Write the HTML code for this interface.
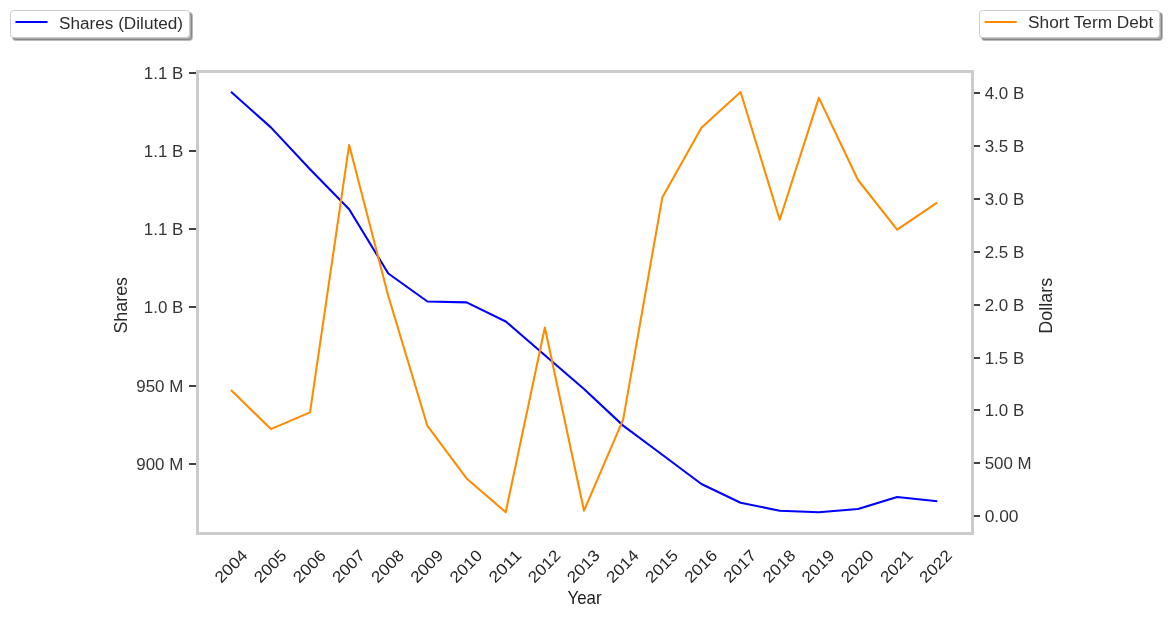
<!DOCTYPE html>
<html><head><meta charset="utf-8"><style>
html,body{margin:0;padding:0;background:#fff;overflow:hidden;}
svg{display:block;will-change:transform;}
text{font-family:"Liberation Sans", sans-serif;}
</style></head><body>
<svg width="1169" height="618" viewBox="0 0 1169 618">
<rect width="1169" height="618" fill="#ffffff"/>
<rect x="197.5" y="71.5" width="775" height="462" fill="none" stroke="#cccccc" stroke-width="3"/>
<line x1="189" y1="73" x2="196" y2="73" stroke="#424242" stroke-width="2"/>
<line x1="189" y1="151" x2="196" y2="151" stroke="#424242" stroke-width="2"/>
<line x1="189" y1="229" x2="196" y2="229" stroke="#424242" stroke-width="2"/>
<line x1="189" y1="307" x2="196" y2="307" stroke="#424242" stroke-width="2"/>
<line x1="189" y1="386" x2="196" y2="386" stroke="#424242" stroke-width="2"/>
<line x1="189" y1="464" x2="196" y2="464" stroke="#424242" stroke-width="2"/>
<line x1="974" y1="93" x2="980" y2="93" stroke="#424242" stroke-width="2"/>
<line x1="974" y1="146" x2="980" y2="146" stroke="#424242" stroke-width="2"/>
<line x1="974" y1="199" x2="980" y2="199" stroke="#424242" stroke-width="2"/>
<line x1="974" y1="252" x2="980" y2="252" stroke="#424242" stroke-width="2"/>
<line x1="974" y1="305" x2="980" y2="305" stroke="#424242" stroke-width="2"/>
<line x1="974" y1="358" x2="980" y2="358" stroke="#424242" stroke-width="2"/>
<line x1="974" y1="410" x2="980" y2="410" stroke="#424242" stroke-width="2"/>
<line x1="974" y1="463" x2="980" y2="463" stroke="#424242" stroke-width="2"/>
<line x1="974" y1="516" x2="980" y2="516" stroke="#424242" stroke-width="2"/>
<text x="567.44" y="604.20" font-size="17.8" fill="#1c1c1c" textLength="34.12" lengthAdjust="spacingAndGlyphs">Year</text>
<text x="221.30" y="583.74" font-size="16.0" fill="#262626" textLength="38.50" lengthAdjust="spacingAndGlyphs" transform="rotate(-45 221.30 583.74)">2004</text>
<text x="260.44" y="583.74" font-size="16.0" fill="#262626" textLength="38.50" lengthAdjust="spacingAndGlyphs" transform="rotate(-45 260.44 583.74)">2005</text>
<text x="299.54" y="583.83" font-size="16.0" fill="#262626" textLength="38.62" lengthAdjust="spacingAndGlyphs" transform="rotate(-45 299.54 583.83)">2006</text>
<text x="338.72" y="583.74" font-size="16.0" fill="#262626" textLength="38.50" lengthAdjust="spacingAndGlyphs" transform="rotate(-45 338.72 583.74)">2007</text>
<text x="377.86" y="583.74" font-size="16.0" fill="#262626" textLength="38.50" lengthAdjust="spacingAndGlyphs" transform="rotate(-45 377.86 583.74)">2008</text>
<text x="416.96" y="583.83" font-size="16.0" fill="#262626" textLength="38.62" lengthAdjust="spacingAndGlyphs" transform="rotate(-45 416.96 583.83)">2009</text>
<text x="456.15" y="583.74" font-size="16.0" fill="#262626" textLength="38.50" lengthAdjust="spacingAndGlyphs" transform="rotate(-45 456.15 583.74)">2010</text>
<text x="495.29" y="583.74" font-size="16.0" fill="#262626" textLength="38.50" lengthAdjust="spacingAndGlyphs" transform="rotate(-45 495.29 583.74)">2011</text>
<text x="534.43" y="583.74" font-size="16.0" fill="#262626" textLength="38.50" lengthAdjust="spacingAndGlyphs" transform="rotate(-45 534.43 583.74)">2012</text>
<text x="573.53" y="583.83" font-size="16.0" fill="#262626" textLength="38.62" lengthAdjust="spacingAndGlyphs" transform="rotate(-45 573.53 583.83)">2013</text>
<text x="612.71" y="583.74" font-size="16.0" fill="#262626" textLength="38.50" lengthAdjust="spacingAndGlyphs" transform="rotate(-45 612.71 583.74)">2014</text>
<text x="651.85" y="583.74" font-size="16.0" fill="#262626" textLength="38.50" lengthAdjust="spacingAndGlyphs" transform="rotate(-45 651.85 583.74)">2015</text>
<text x="690.95" y="583.83" font-size="16.0" fill="#262626" textLength="38.62" lengthAdjust="spacingAndGlyphs" transform="rotate(-45 690.95 583.83)">2016</text>
<text x="730.14" y="583.74" font-size="16.0" fill="#262626" textLength="38.50" lengthAdjust="spacingAndGlyphs" transform="rotate(-45 730.14 583.74)">2017</text>
<text x="769.28" y="583.74" font-size="16.0" fill="#262626" textLength="38.50" lengthAdjust="spacingAndGlyphs" transform="rotate(-45 769.28 583.74)">2018</text>
<text x="808.37" y="583.83" font-size="16.0" fill="#262626" textLength="38.62" lengthAdjust="spacingAndGlyphs" transform="rotate(-45 808.37 583.83)">2019</text>
<text x="847.56" y="583.74" font-size="16.0" fill="#262626" textLength="38.50" lengthAdjust="spacingAndGlyphs" transform="rotate(-45 847.56 583.74)">2020</text>
<text x="886.70" y="583.74" font-size="16.0" fill="#262626" textLength="38.50" lengthAdjust="spacingAndGlyphs" transform="rotate(-45 886.70 583.74)">2021</text>
<text x="925.84" y="583.74" font-size="16.0" fill="#262626" textLength="38.50" lengthAdjust="spacingAndGlyphs" transform="rotate(-45 925.84 583.74)">2022</text>
<text x="126.75" y="333.61" font-size="17.8" fill="#2b2b2b" textLength="56.62" lengthAdjust="spacingAndGlyphs" transform="rotate(-90 126.75 333.61)">Shares</text>
<text x="136.31" y="469.71" font-size="16.0" fill="#353535" textLength="47.00" lengthAdjust="spacingAndGlyphs">900 M</text>
<text x="136.31" y="391.53" font-size="16.0" fill="#353535" textLength="47.00" lengthAdjust="spacingAndGlyphs">950 M</text>
<text x="143.81" y="313.35" font-size="16.0" fill="#353535" textLength="39.50" lengthAdjust="spacingAndGlyphs">1.0 B</text>
<text x="143.81" y="235.17" font-size="16.0" fill="#353535" textLength="39.50" lengthAdjust="spacingAndGlyphs">1.1 B</text>
<text x="143.81" y="156.99" font-size="16.0" fill="#353535" textLength="39.50" lengthAdjust="spacingAndGlyphs">1.1 B</text>
<text x="143.81" y="78.80" font-size="16.0" fill="#353535" textLength="39.50" lengthAdjust="spacingAndGlyphs">1.1 B</text>
<text x="1051.83" y="333.80" font-size="17.8" fill="#292929" textLength="56.00" lengthAdjust="spacingAndGlyphs" transform="rotate(-90 1051.83 333.80)">Dollars</text>
<text x="984.69" y="522.20" font-size="16.0" fill="#353535" textLength="33.75" lengthAdjust="spacingAndGlyphs">0.00</text>
<text x="984.69" y="469.31" font-size="16.0" fill="#353535" textLength="46.88" lengthAdjust="spacingAndGlyphs">500 M</text>
<text x="984.69" y="416.43" font-size="16.0" fill="#353535" textLength="39.50" lengthAdjust="spacingAndGlyphs">1.0 B</text>
<text x="984.69" y="363.54" font-size="16.0" fill="#353535" textLength="39.50" lengthAdjust="spacingAndGlyphs">1.5 B</text>
<text x="984.69" y="310.66" font-size="16.0" fill="#353535" textLength="39.50" lengthAdjust="spacingAndGlyphs">2.0 B</text>
<text x="984.69" y="257.77" font-size="16.0" fill="#353535" textLength="39.50" lengthAdjust="spacingAndGlyphs">2.5 B</text>
<text x="984.69" y="204.88" font-size="16.0" fill="#353535" textLength="39.62" lengthAdjust="spacingAndGlyphs">3.0 B</text>
<text x="984.69" y="152.00" font-size="16.0" fill="#353535" textLength="39.62" lengthAdjust="spacingAndGlyphs">3.5 B</text>
<text x="984.69" y="99.11" font-size="16.0" fill="#353535" textLength="39.50" lengthAdjust="spacingAndGlyphs">4.0 B</text>
<polyline points="231.73,92.50 270.87,127.39 310.01,169.18 349.15,209.22 388.29,273.51 427.43,301.50 466.58,302.40 505.72,321.45 544.86,355.24 584.00,388.93 623.14,425.62 662.28,454.71 701.42,483.96 740.57,502.75 779.71,510.70 818.85,512.30 857.99,509.05 897.13,497.00 936.27,501.20" fill="none" stroke="#0000ff" stroke-width="2.08" stroke-linejoin="round" stroke-linecap="square"/>
<polyline points="231.73,390.69 270.87,429.09 310.01,412.39 349.15,144.96 388.29,296.02 427.43,425.94 466.58,478.45 505.72,512.20 544.86,327.58 584.00,510.70 623.14,419.69 662.28,197.56 701.42,127.75 740.57,92.00 779.71,219.77 818.85,97.85 857.99,180.01 897.13,229.57 936.27,203.16" fill="none" stroke="#ff8c00" stroke-width="2.08" stroke-linejoin="round" stroke-linecap="square"/>
<rect x="13.00" y="13.00" width="179.00" height="27.00" rx="3.06" fill="#4c4c4c" fill-opacity="0.465" stroke="#4c4c4c" stroke-opacity="0.38" stroke-width="2"/>
<rect x="10.50" y="10.50" width="179.00" height="27.00" rx="3.06" fill="#ffffff" stroke="#cccccc" stroke-width="1"/>
<line x1="16.25" y1="22.0" x2="46.81" y2="22.0" stroke="#0000ff" stroke-width="2.08" stroke-linecap="round"/>
<rect x="982.00" y="13.00" width="180.00" height="27.00" rx="3.06" fill="#4c4c4c" fill-opacity="0.465" stroke="#4c4c4c" stroke-opacity="0.38" stroke-width="2"/>
<rect x="979.50" y="10.50" width="180.00" height="27.00" rx="3.06" fill="#ffffff" stroke="#cccccc" stroke-width="1"/>
<line x1="985.35" y1="22.0" x2="1015.9" y2="22.0" stroke="#ff8c00" stroke-width="2.08" stroke-linecap="round"/>
<text x="59.03" y="28.65" font-size="16.0" fill="#2e2e2e" textLength="124.00" lengthAdjust="spacingAndGlyphs">Shares (Diluted)</text>
<text x="1028.12" y="28.15" font-size="16.0" fill="#2e2e2e" textLength="125.12" lengthAdjust="spacingAndGlyphs">Short Term Debt</text>
</svg>
</body></html>
